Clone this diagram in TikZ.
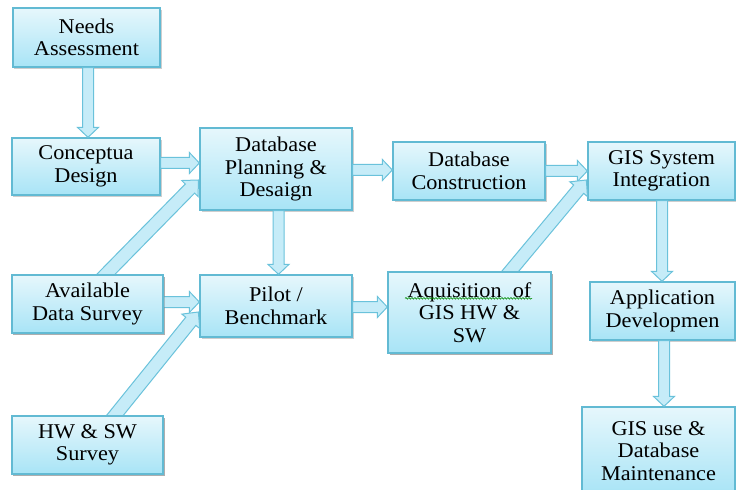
\documentclass[tikz,border=0pt]{standalone}
\usepackage{fontspec}
\setmainfont{Liberation Serif}[FakeStretch=1.06]
\usetikzlibrary{calc,shadows,decorations.pathmorphing}
\definecolor{boxtop}{HTML}{E6F7FC}
\definecolor{boxbot}{HTML}{A8E4F6}
\definecolor{boxbd}{HTML}{62BAD3}
\definecolor{arrfill}{HTML}{C6ECF8}
\definecolor{arrbd}{HTML}{6AC2DB}
\tikzset{
  proc/.style={draw=boxbd, line width=1.3bp, top color=boxtop, bottom color=boxbot,
    align=center, inner sep=0pt, font=\fontsize{21bp}{22.5bp}\selectfont,
    drop shadow={shadow xshift=1.5bp, shadow yshift=-1.8bp, opacity=0.35, fill=black!55}},
  barrow/.style={draw=arrbd, line width=1bp, fill=arrfill, line join=miter},
  spell/.style={draw=green!55!black, line width=0.6bp, decorate,
    decoration={snake, segment length=3bp, amplitude=0.8bp}}
}
\def\bsw{5.5bp}\def\bhw{10.5bp}\def\bhl{10bp}
\newcommand\blockarr[2]{%
  \coordinate (ba-h) at ($(#2)!\bhl!(#1)$);
  \draw[barrow] ($(#1)!\bsw!90:(#2)$) -- ($(ba-h)!\bsw!90:(#2)$) -- ($(ba-h)!\bhw!90:(#2)$)
    -- (#2) -- ($(ba-h)!\bhw!-90:(#2)$) -- ($(ba-h)!\bsw!-90:(#2)$) -- ($(#1)!\bsw!-90:(#2)$) -- cycle;}
\begin{document}
\begin{tikzpicture}[x=1bp,y=-1bp]
\useasboundingbox (0,0) rectangle (736,490);
\fill[white] (0,0) rectangle (736,490);
\clip (0,0) rectangle (736,490);

\path
  (86.5,37.5)  coordinate (c-need)
  (86,166.5)   coordinate (c-concept)
  (276,169)    coordinate (c-dbplan)
  (469,171)    coordinate (c-dbcons)
  (661.5,171)  coordinate (c-gisint)
  (87.5,304)   coordinate (c-avail)
  (276,306)    coordinate (c-pilot)
  (469.5,312.5) coordinate (c-aquis)
  (662.5,311)  coordinate (c-appdev)
  (87.5,445)   coordinate (c-hwsw)
  (658.5,451)  coordinate (c-gisuse);

\node[proc, minimum width=147bp, minimum height=59bp] (need) at (c-need) {Needs\\Assessment};
\node[proc, minimum width=148bp, minimum height=57bp] (concept) at (c-concept) {Conceptua\\Design};
\node[proc, minimum width=152bp, minimum height=82bp] (dbplan) at (c-dbplan) {Database\\Planning \&\\Desaign};
\node[proc, minimum width=152bp, minimum height=58bp] (dbcons) at (c-dbcons) {Database\\Construction};
\node[proc, minimum width=147bp, minimum height=58bp] (gisint) at (c-gisint) {GIS System\\Integration};
\node[proc, minimum width=151bp, minimum height=58bp] (avail) at (c-avail) {Available\\Data Survey};
\node[proc, minimum width=152bp, minimum height=62bp] (pilot) at (c-pilot) {Pilot /\\Benchmark};
\node[proc, minimum width=163bp, minimum height=81bp] (aquis) at (c-aquis) {Aquisition\ \ of\\GIS HW \&\\SW};
\node[proc, minimum width=145bp, minimum height=58bp] (appdev) at (c-appdev) {Application\\Developmen};
\node[proc, minimum width=151bp, minimum height=58bp] (hwsw) at (c-hwsw) {HW \& SW\\Survey};
\node[proc, minimum width=153bp, minimum height=88bp] (gisuse) at (c-gisuse) {GIS use \&\\Database\\Maintenance};

\coordinate (a1s) at ([xshift=1.5bp]need.south);
\coordinate (a1e) at (a1s |- concept.north);
\coordinate (a2s) at ([yshift=3.5bp]concept.east);
\coordinate (a2e) at (a2s -| dbplan.west);
\coordinate (a3s) at ([xshift=10.5bp,yshift=-8bp]avail.north);
\coordinate (a3e) at ([xshift=-1bp,yshift=-11bp]dbplan.west);
\coordinate (a4s) at ([xshift=2.5bp]dbplan.south);
\coordinate (a4e) at (a4s |- pilot.north);
\coordinate (a5s) at ([yshift=2bp]avail.east);
\coordinate (a5e) at (a5s -| pilot.west);
\coordinate (a6s) at ([xshift=21bp,yshift=-8bp]hwsw.north);
\coordinate (a6e) at ([xshift=-1bp,yshift=-6bp]pilot.west);
\coordinate (a7s) at ([yshift=-1bp]dbplan.east);
\coordinate (a7e) at (a7s -| dbcons.west);
\coordinate (a8s) at (dbcons.east);
\coordinate (a8e) at (a8s -| gisint.west);
\coordinate (a9s) at ([yshift=-1bp]pilot.east);
\coordinate (a9e) at (a9s -| aquis.west);
\coordinate (a10s) at ([xshift=34bp,yshift=-8bp]aquis.north);
\coordinate (a10e) at ([xshift=-1bp,yshift=-9bp]gisint.west);
\coordinate (a11s) at ([xshift=0.5bp]gisint.south);
\coordinate (a11e) at (a11s |- appdev.north);
\coordinate (a12s) at ([xshift=1.5bp]appdev.south);
\coordinate (a12e) at (a12s |- gisuse.north);

\blockarr{a1s}{a1e}
\blockarr{a2s}{a2e}
\blockarr{a4s}{a4e}
\blockarr{a5s}{a5e}
\blockarr{a7s}{a7e}
\blockarr{a8s}{a8e}
\blockarr{a9s}{a9e}
\blockarr{a11s}{a11e}
\blockarr{a12s}{a12e}
\def\bsw{6.5bp}\def\bhw{11.5bp}\def\bhl{12bp}
\blockarr{a3s}{a3e}
\blockarr{a6s}{a6e}
\blockarr{a10s}{a10e}

\node[proc, minimum width=151bp, minimum height=58bp] at (c-avail) {Available\\Data Survey};
\node[proc, minimum width=163bp, minimum height=81bp] at (c-aquis) {Aquisition\ \ of\\GIS HW \&\\SW};
\node[proc, minimum width=151bp, minimum height=58bp] at (c-hwsw) {HW \& SW\\Survey};

\draw[spell] ([xshift=-64.5bp,yshift=-27bp]aquis.north) -- ([xshift=62.5bp,yshift=-27bp]aquis.north);
\end{tikzpicture}
\end{document}
